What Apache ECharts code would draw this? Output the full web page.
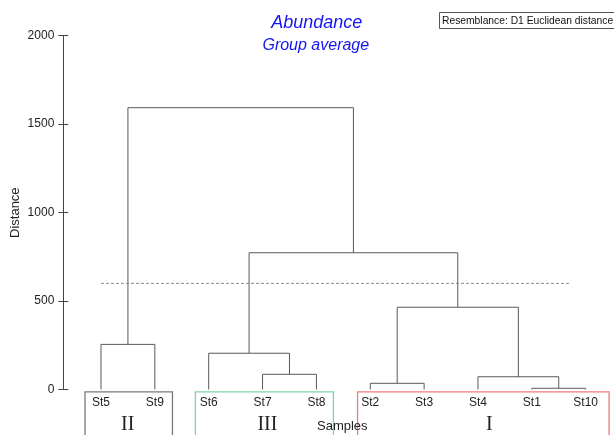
<!DOCTYPE html>
<html>
<head>
<meta charset="utf-8">
<script src="https://cdn.jsdelivr.net/npm/echarts@6/dist/echarts.min.js"></script>
<style>
html,body{margin:0;padding:0;background:#fff;}
#chart{width:614px;height:435px;}
</style>
</head>
<body>
<div id="chart"></div>
<script>
// ---------- data ----------
const leaves = ['St5','St9','St6','St7','St8','St2','St3','St4','St1','St10'];
// linkage: node ids 0..9 are leaves, each merge creates node 10, 11, ...
const mergeLeft   = [8, 5, 3, 7, 2, 0, 11, 14, 15];
const mergeRight  = [9, 6, 4, 10, 12, 1, 13, 16, 17];
const mergeHeight = [7, 35, 86, 72, 205, 255, 465, 773, 1593];
const yTickValues = [0, 500, 1000, 1500, 2000];
const cutLevel = 600;
const cutEndLeaf = 8.69;
const groupNames = ['II', 'III', 'I'];
const groupLeafStart = [0, 2, 5];
const groupLeafEnd = [1, 4, 9];

// ---------- styles ----------
const boxPadLeft = [16, 13.3, 12.7];
const boxPadRight = [17.6, 17, 23.4];
const boxColors = ['#7a7a7a', '#7fd3a5', '#ef7b7b'];
const numeralDx = [-1, 3, 6];
const lineColor = '#595959';

// ---------- build dendrogram segments ----------
const nodeX = leaves.map((_, i) => i);
const nodeH = leaves.map(() => 0);
const segments = [];
for (let k = 0; k < mergeHeight.length; k++) {
  const a = mergeLeft[k], b = mergeRight[k], h = mergeHeight[k];
  segments.push([nodeX[a], nodeH[a], nodeX[b], nodeH[b], h]);
  nodeX.push((nodeX[a] + nodeX[b]) / 2);
  nodeH.push(h);
}

const chart = echarts.init(document.getElementById('chart'), null, {renderer: 'canvas'});

const yMin = yTickValues[0], yMax = yTickValues[yTickValues.length - 1];
const yInterval = yTickValues[1] - yTickValues[0];

const option = {
  backgroundColor: '#ffffff',
  animation: false,
  grid: {left: 63.3, top: 35.7, width: 549.3, height: 353.8, containLabel: false},
  xAxis: {type: 'value', min: -0.7, max: 9.5, show: false},
  yAxis: [
    {
      type: 'value', min: yMin, max: yMax, interval: yInterval, position: 'left',
      splitLine: {show: false},
      axisLine: {show: true, onZero: false, lineStyle: {color: '#444', width: 1}},
      axisTick: {show: true, inside: false, length: 5, lineStyle: {color: '#444', width: 1}},
      axisLabel: {show: true, margin: 9, fontSize: 12, color: '#222', fontFamily: 'Liberation Sans, Arial, sans-serif',
        formatter: function (v) { return String(v); }}
    },
    {
      type: 'value', min: yMin, max: yMax, interval: yInterval, position: 'left',
      splitLine: {show: false},
      axisLine: {show: false, onZero: false},
      axisTick: {show: true, inside: true, length: 5, lineStyle: {color: '#444', width: 1}},
      axisLabel: {show: false}
    }
  ],
  series: [
    {
      type: 'custom',
      name: 'dendrogram',
      coordinateSystem: 'cartesian2d',
      data: segments,
      encode: {x: [0, 2], y: [1, 3, 4]},
      clip: false,
      renderItem: function (params, api) {
        const xa = api.value(0), ha = api.value(1), xb = api.value(2), hb = api.value(3), h = api.value(4);
        const pts = [api.coord([xa, ha]), api.coord([xa, h]), api.coord([xb, h]), api.coord([xb, hb])];
        return {type: 'polyline', shape: {points: pts}, style: {stroke: lineColor, lineWidth: 1, fill: null}};
      }
    },
    {
      type: 'custom',
      name: 'cut',
      coordinateSystem: 'cartesian2d',
      data: [[0, cutEndLeaf, cutLevel]],
      encode: {x: [0, 1], y: 2},
      renderItem: function (params, api) {
        const p1 = api.coord([api.value(0), api.value(2)]);
        const p2 = api.coord([api.value(1), api.value(2)]);
        return {type: 'line', shape: {x1: p1[0], y1: p1[1], x2: p2[0], y2: p2[1]},
          style: {stroke: '#8a8a8a', lineWidth: 1, lineDash: [3, 2]}};
      }
    },
    {
      type: 'custom',
      name: 'leafLabels',
      coordinateSystem: 'cartesian2d',
      data: leaves.map((n, i) => [i, 0]),
      encode: {x: 0, y: 1},
      clip: false,
      renderItem: function (params, api) {
        const p = api.coord([api.value(0), api.value(1)]);
        return {type: 'text', x: p[0], y: p[1] + 13.5,
          style: {text: leaves[params.dataIndex], fill: '#222', font: '12px "Liberation Sans", Arial, sans-serif',
            align: 'center', verticalAlign: 'middle', textAlign: 'center', textVerticalAlign: 'middle'}};
      }
    },
    {
      type: 'custom',
      name: 'groups',
      coordinateSystem: 'cartesian2d',
      data: groupNames.map((g, i) => [groupLeafStart[i], groupLeafEnd[i], 0]),
      encode: {x: [0, 1], y: 2},
      clip: false,
      z: 1,
      renderItem: function (params, api) {
        const i = params.dataIndex;
        const p1 = api.coord([api.value(0), api.value(2)]);
        const p2 = api.coord([api.value(1), api.value(2)]);
        const left = p1[0] - boxPadLeft[i];
        const right = p2[0] + boxPadRight[i];
        const top = p1[1] + 2.3;
        return {
          type: 'group',
          children: [
            {type: 'rect', shape: {x: left, y: top, width: right - left, height: 60},
              style: {fill: null, stroke: boxColors[i], lineWidth: 1.3}},
            {type: 'text', x: (left + right) / 2 + numeralDx[i], y: p1[1] + 35,
              style: {text: groupNames[i], fill: '#222', font: '20px "Liberation Serif", "Times New Roman", serif',
                align: 'center', verticalAlign: 'middle', textAlign: 'center', textVerticalAlign: 'middle'}}
          ]
        };
      }
    }
  ],
  graphic: [
    {type: 'text', x: 316.7, y: 22.7, style: {text: 'Abundance', fill: '#1414f5',
      font: 'italic 18px "Liberation Sans", Arial, sans-serif', align: 'center', verticalAlign: 'middle', textAlign: 'center', textVerticalAlign: 'middle'}},
    {type: 'text', x: 315.8, y: 46, style: {text: 'Group average', fill: '#1414f5',
      font: 'italic 16px "Liberation Sans", Arial, sans-serif', align: 'center', verticalAlign: 'middle', textAlign: 'center', textVerticalAlign: 'middle'}},
    {type: 'rect', shape: {x: 439.5, y: 12.5, width: 180, height: 16}, style: {fill: '#fff', stroke: '#555', lineWidth: 1}},
    {type: 'text', x: 442, y: 20.7, style: {text: 'Resemblance: D1 Euclidean distance', fill: '#111',
      font: '10.3px "Liberation Sans", Arial, sans-serif', align: 'left', verticalAlign: 'middle', textAlign: 'left', textVerticalAlign: 'middle'}},
    {type: 'text', x: 15, y: 212.7, rotation: Math.PI / 2, style: {text: 'Distance', fill: '#222',
      font: '13px "Liberation Sans", Arial, sans-serif', align: 'center', verticalAlign: 'middle', textAlign: 'center', textVerticalAlign: 'middle'}},
    {type: 'text', x: 342.3, y: 426.7, z: 10, style: {text: 'Samples', fill: '#222',
      font: '13px "Liberation Sans", Arial, sans-serif', align: 'center', verticalAlign: 'middle', textAlign: 'center', textVerticalAlign: 'middle'}}
  ]
};
chart.setOption(option);
</script>
</body>
</html>
